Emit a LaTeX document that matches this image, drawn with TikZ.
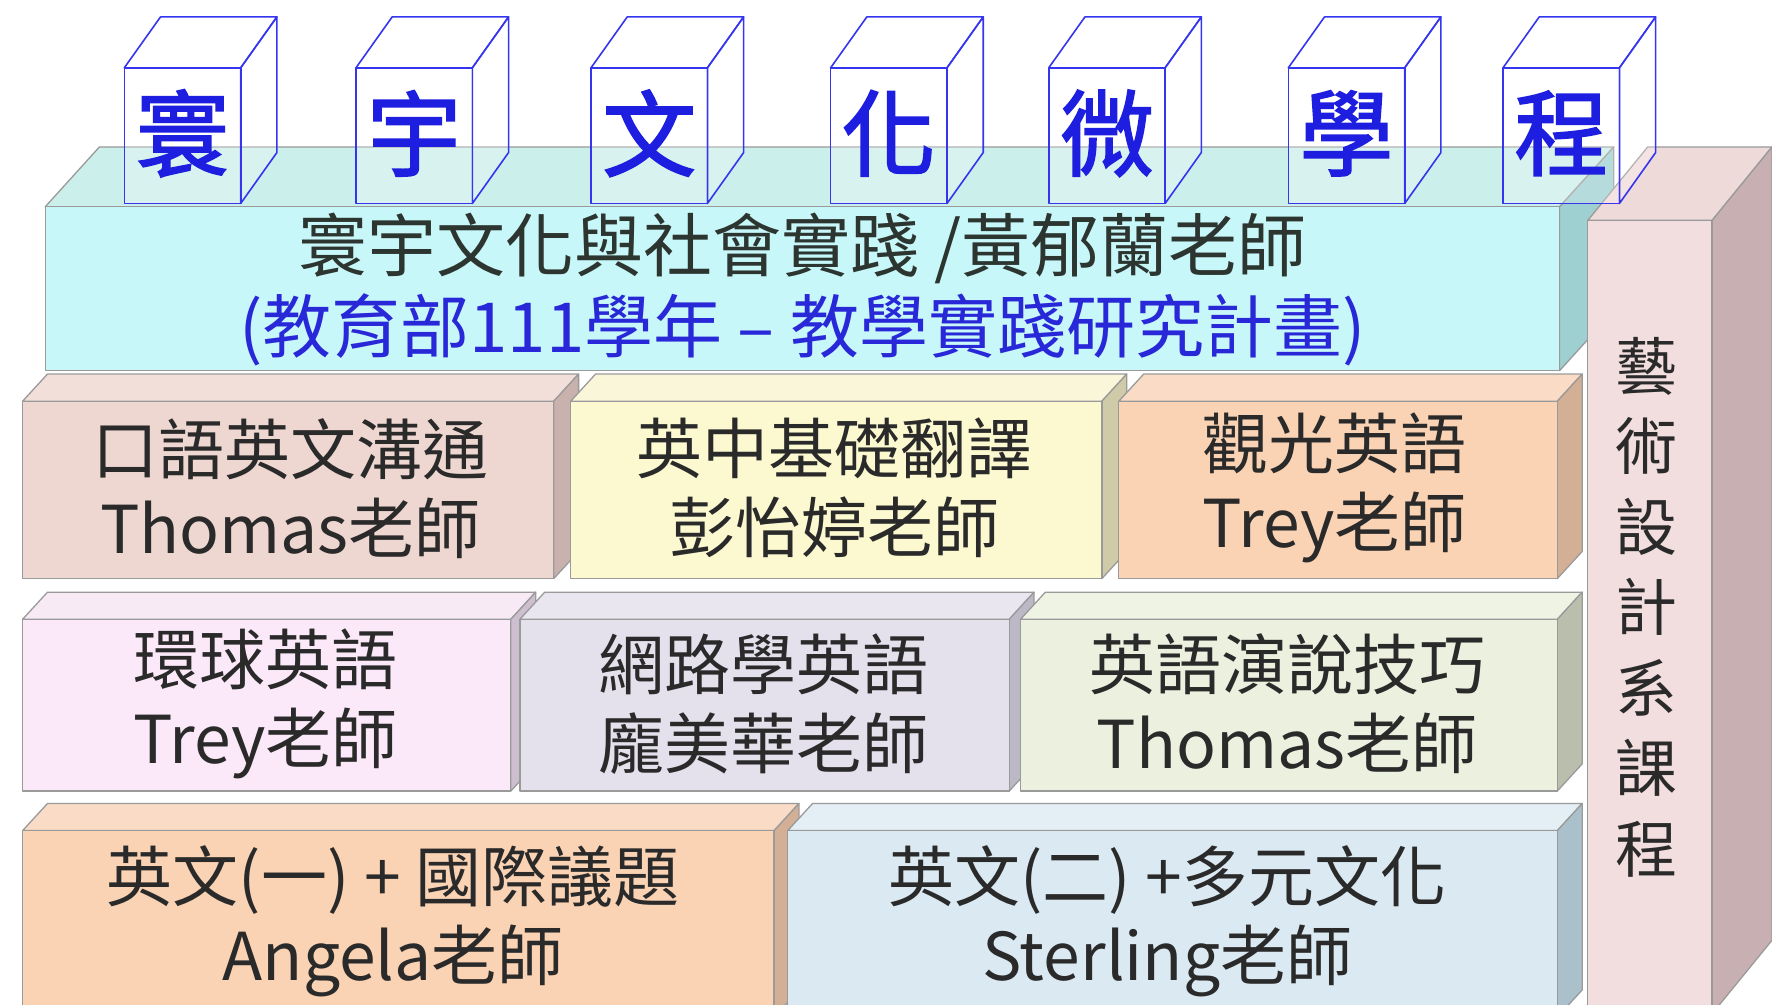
\documentclass[tikz,border=0pt]{standalone}
\usepackage{fontspec}
\setmainfont{Noto Sans CJK TC}
\newfontfamily\cubefont[FakeBold=1.8]{Noto Sans CJK TC}
\definecolor{edgegray}{HTML}{9A9A9A}
\definecolor{txt}{HTML}{2A2A2A}
\definecolor{toptxt}{HTML}{2C3530}
\definecolor{bluetxt}{HTML}{2828D8}
\definecolor{cubeblue}{HTML}{3535F0}
\definecolor{charblue}{HTML}{1E1EE0}
\definecolor{cyanF}{HTML}{C8F7F9}
\definecolor{cyanT}{HTML}{CBEFEA}
\definecolor{cyanS}{HTML}{9ED0D2}
\definecolor{pinkF}{HTML}{EFD7D1}
\definecolor{pinkT}{HTML}{F3DFDA}
\definecolor{pinkS}{HTML}{C9B2AE}
\definecolor{yelF}{HTML}{FCF9D0}
\definecolor{yelT}{HTML}{FAF6DA}
\definecolor{yelS}{HTML}{CFCBA8}
\definecolor{peachF}{HTML}{FAD3B5}
\definecolor{peachT}{HTML}{FADCC6}
\definecolor{peachS}{HTML}{D3AF96}
\definecolor{lilacF}{HTML}{FBE8F8}
\definecolor{lilacT}{HTML}{F7EAF5}
\definecolor{lilacS}{HTML}{CDBFD0}
\definecolor{lavF}{HTML}{E4E0EC}
\definecolor{lavT}{HTML}{E9E6EF}
\definecolor{lavS}{HTML}{BDB8C6}
\definecolor{greenF}{HTML}{ECF0DF}
\definecolor{greenT}{HTML}{EFF3E4}
\definecolor{greenS}{HTML}{B9BFAC}
\definecolor{skyF}{HTML}{DBEAF2}
\definecolor{skyT}{HTML}{E3EFF4}
\definecolor{skyS}{HTML}{AAC0CA}
\definecolor{artF}{HTML}{F2DEDE}
\definecolor{artT}{HTML}{EFDADA}
\definecolor{artS}{HTML}{C8B0B2}
\tikzset{
  edge/.style={draw=edgegray, line width=1.3pt, line join=round},
  lbl/.style={align=center, font=\fontsize{66}{79}\selectfont, text=txt},
  cubeline/.style={draw=cubeblue, line width=1.6pt, line join=round},
  cubechar/.style={font=\cubefont\fontsize{94}{100}\selectfont, text=charblue},
}
% x1 y1 x2 y2 dx dy front top side
\newcommand\slab[9]{%
  \path[edge, fill=#8] (#1,#2) -- ++(#5,#6) -- ++({#3-(#1)},0) -- (#3,#2) -- cycle;
  \path[edge, fill=#9] (#3,#2) -- ++(#5,#6) -- ++(0,{#4-(#2)}) -- (#3,#4) -- cycle;
  \path[edge, fill=#7] (#1,#2) rectangle (#3,#4);
}
% x1 char name
\newcommand\glyphcube[3]{%
  \path[cubeline, fill=white, fill opacity=0.25] (#1,60) -- ++(32,-45) -- ++(103,0) -- ++(-32,45) -- cycle;
  \path[cubeline, fill=white, fill opacity=0.25] ({#1+103},60) -- ++(32,-45) -- ++(0,120) -- ++(-32,45) -- cycle;
  \path[cubeline, fill=white, fill opacity=0.25] (#1,60) rectangle ++(103,120);
  \node[cubechar] (#3) at ({#1+51.5},118) {#2};
}
\begin{document}
\begin{tikzpicture}[x=1.1301pt, y=-1.1301pt]
\useasboundingbox (0,0) rectangle (1568,889);
\fill[white] (0,0) rectangle (1568,889);
\clip (0,0) rectangle (1568,889);

% top layer
\slab{40}{183}{1380}{328}{48}{-53}{cyanF}{cyanT}{cyanS}
\node[lbl, font=\fontsize{69}{81}\selectfont, text=toptxt] (top) at (710,256) {寰宇文化與社會實踐 /黃郁蘭老師\\\textcolor{bluetxt}{(教育部111學年 – 教學實踐研究計畫)}};

% row 2
\slab{20}{355}{490}{512}{22}{-24}{pinkF}{pinkT}{pinkS}
\node[lbl] (oral) at (257,432) {口語英文溝通\\Thomas老師};
\slab{505}{355}{975}{512}{22}{-24}{yelF}{yelT}{yelS}
\node[lbl] (trans) at (738,432) {英中基礎翻譯\\彭怡婷老師};
\slab{990}{355}{1378}{512}{22}{-24}{peachF}{peachT}{peachS}
\node[lbl] (tour) at (1181,432) {觀光英語\\Trey老師};

% row 3
\slab{20}{548}{452}{700}{22}{-24}{lilacF}{lilacT}{lilacS}
\node[lbl] (global) at (235,623) {環球英語\\Trey老師};
\slab{460}{548}{893}{700}{22}{-24}{lavF}{lavT}{lavS}
\node[lbl] (web) at (676,623) {網路學英語\\龐美華老師};
\slab{903}{548}{1378}{700}{22}{-24}{greenF}{greenT}{greenS}
\node[lbl] (speech) at (1139,623) {英語演說技巧\\Thomas老師};

% row 4
\slab{20}{735}{685}{900}{22}{-24}{peachF}{peachT}{peachS}
\node[lbl] (eng1) at (348,815) {英文(一) + 國際議題\\Angela老師};
\slab{697}{735}{1378}{900}{22}{-24}{skyF}{skyT}{skyS}
\node[lbl] (eng2) at (1033,815) {英文(二) +多元文化\\Sterling老師};

% art & design column
\slab{1405}{195}{1515}{897}{53}{-65}{artF}{artT}{artS}
\node[lbl, font=\fontsize{62}{80.5}\selectfont] (art) at (1457,537) {藝\\術\\設\\計\\系\\課\\程};

% title cubes
\glyphcube{110}{寰}{c1}
\glyphcube{315}{宇}{c2}
\glyphcube{523}{文}{c3}
\glyphcube{735}{化}{c4}
\glyphcube{928}{微}{c5}
\glyphcube{1140}{學}{c6}
\glyphcube{1330}{程}{c7}
\end{tikzpicture}
\end{document}
